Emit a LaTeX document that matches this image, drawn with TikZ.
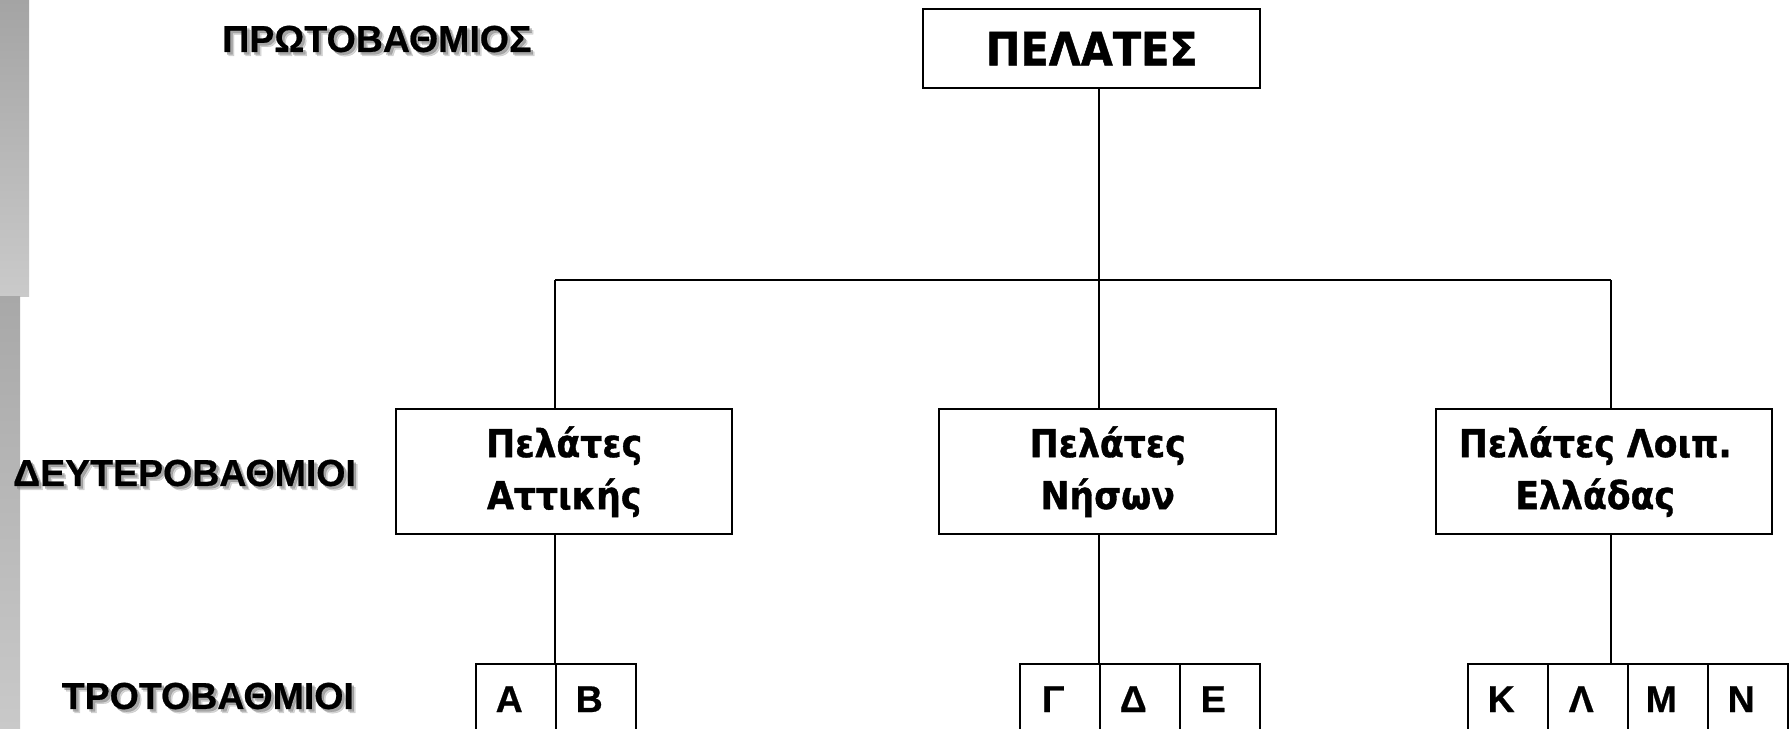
\documentclass[tikz,border=0pt]{standalone}
\usepackage{fontspec}
\setmainfont{Liberation Sans}
\newfontfamily\labfont[FakeBold=0.6]{Liberation Sans}
\newfontfamily\boxfont[FakeStretch=0.9,FakeBold=1]{DejaVu Sans}
\definecolor{barTopA}{HTML}{A4A4A4}
\definecolor{barTopB}{HTML}{CACACA}
\definecolor{barLowA}{HTML}{A8A8A8}
\definecolor{barLowB}{HTML}{C9C9C9}
\newcommand\shadowlabel[4]{% name, anchor, position, text
  \node[lbl, anchor=#2, text=black!45, opacity=0.35, xshift=4pt, yshift=-4pt] at (#3) {#4};
  \node[lbl, anchor=#2, text=black!50, opacity=0.55, xshift=2.5pt, yshift=-2.5pt] at (#3) {#4};
  \node[lbl, anchor=#2] (#1) at (#3) {#4};
}
\begin{document}
\begin{tikzpicture}[x=1pt,y=-1pt,
  lbl/.style={inner sep=0pt, font=\labfont\bfseries\fontsize{37.5}{45}\selectfont},
  frame/.style={draw, line width=2.4pt, inner sep=0pt, anchor=north west},
  toptext/.style={font=\boxfont\bfseries\fontsize{46}{55}\selectfont},
  midtext/.style={align=center, font=\boxfont\bfseries\fontsize{38.5}{52}\selectfont},
  cell/.style={draw, line width=2.4pt, inner sep=0pt, anchor=north west,
    minimum width=80pt, minimum height=70pt, font=\labfont\bfseries\fontsize{37.5}{45}\selectfont},
  link/.style={line width=2.2pt}]
\useasboundingbox (0,0) rectangle (1790,728);
\fill[white] (0,0) rectangle (1790,728);
% side bars
\shade[top color=barTopA, bottom color=barTopB] (0,0) rectangle (29,296);
\shade[top color=barLowA, bottom color=barLowB] (0,296) rectangle (20,728);
% labels
\shadowlabel{l1}{west}{222,39}{ΠΡΩΤΟΒΑΘΜΙΟΣ}
\shadowlabel{l2}{east}{356,473}{ΔΕΥΤΕΡΟΒΑΘΜΙΟΙ}
\shadowlabel{l3}{east}{354,696}{ΤΡΟΤΟΒΑΘΜΙΟΙ}
% top box
\node[frame, toptext, minimum width=337pt, minimum height=79pt] (top) at (922,8) {ΠΕΛΑΤΕΣ};
% second level
\node[frame, midtext, minimum width=336pt, minimum height=125pt] (att) at (395,408) {Πελάτες\\Αττικής};
\node[frame, midtext, minimum width=337pt, minimum height=125pt] (nis) at (938,408) {Πελάτες\\Νήσων};
\node[frame, minimum width=336pt, minimum height=125pt] (ell) at (1435,408) {};
\node[midtext, inner sep=0pt] (elltxt) at ([xshift=-9pt]ell.center) {Πελάτες Λοιπ.\\Ελλάδας};
% third level cells
\node[cell] (cA) at (475,663) {\hspace*{-14pt}Α};
\node[cell] (cB) at (555,663) {\hspace*{-14pt}Β};
\node[cell] (cG) at (1019,663) {\hspace*{-14pt}Γ};
\node[cell] (cD) at (1099,663) {\hspace*{-14pt}Δ};
\node[cell] (cE) at (1179,663) {\hspace*{-14pt}Ε};
\node[cell] (cK) at (1467,663) {\hspace*{-14pt}Κ};
\node[cell] (cL) at (1547,663) {\hspace*{-14pt}Λ};
\node[cell] (cM) at (1627,663) {\hspace*{-14pt}Μ};
\node[cell] (cN) at (1707,663) {\hspace*{-14pt}Ν};
% junctions
\coordinate (jL) at (555,280);
\coordinate (jM) at (1099,280);
\coordinate (jR) at (1611,280);
% connectors
\draw[link] (top.south -| jM) -- (jM);
\draw[link] (jL) -- (jR);
\draw[link] (jL) -- (jL |- att.north);
\draw[link] (jM) -- (jM |- nis.north);
\draw[link] (jR) -- (jR |- ell.north);
\draw[link] (jL |- att.south) -- (jL |- cA.north);
\draw[link] (jM |- nis.south) -- (jM |- cD.north);
\draw[link] (jR |- ell.south) -- (jR |- cL.north);
\end{tikzpicture}
\end{document}
